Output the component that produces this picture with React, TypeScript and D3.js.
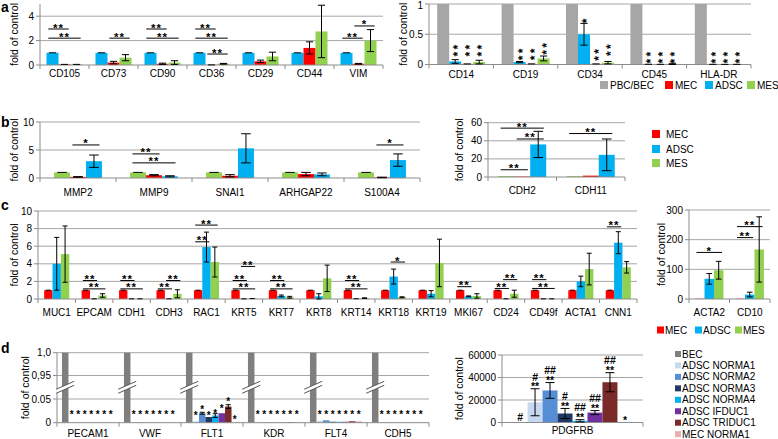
import React from "react";
import * as d3 from "d3";

const FONT = "Arial, 'Liberation Sans', Helvetica, sans-serif";
const RED = "#ff0000";
const BLUE = "#00b0f0";
const GREEN = "#92d050";
const GRAY = "#a6a6a6";

// ---- a, left: mesenchymal markers ----
const aGenes = ["CD105", "CD73", "CD90", "CD36", "CD29", "CD44", "VIM"];
const aADSC = [1, 1, 1, 1, 1, 1, 1];
const aADSCErr = [0, 0, 0, 0, 0, 0, 0];
const aMEC = [0.05, 0.2, 0.1, 0.01, 0.3, 1.4, 0.1];
const aMECErr = [0, 0.1, 0.05, 0, 0.1, 0.5, 0.03];
const aMES = [0.05, 0.6, 0.2, 0.1, 0.7, 2.75, 2.0];
const aMESErr = [0, 0.25, 0.15, 0.03, 0.35, 2.15, 0.9];
// [gene, from series, to series, level, label]
const aSigs: Sig[] = [
  [0, 0, 1, 2.95, "**"], [0, 0, 2, 2.2, "**"],
  [1, 1, 2, 2.2, "**"],
  [2, 0, 1, 2.95, "**"], [2, 0, 2, 2.2, "**"],
  [3, 0, 1, 2.95, "**"], [3, 0, 2, 2.2, "**"], [3, 1, 2, 0.9, "**"],
  [6, 0, 1, 2.2, "**"], [6, 1, 2, 3.2, "*"],
];

// ---- a, right: hematopoietic markers ----
const a2Genes = ["CD14", "CD19", "CD34", "CD45", "HLA-DR"];
const a2PBC = [1, 1, 1, 1, 1];
const a2ADSC = [0.05, 0.04, 0.5, 0.004, 0.003];
const a2ADSCErr = [0.03, 0.01, 0.18, 0, 0];
const a2MEC = [0.01, 0.01, 0.01, 0.003, 0.002];
const a2MECErr = [0, 0, 0, 0, 0];
const a2MES = [0.04, 0.1, 0.03, 0.01, 0.003];
const a2MESErr = [0.03, 0.04, 0.02, 0.01, 0];
// [gene, series, level of lowest star, label]
const a2Stars: [number, number, number, string][] = [
  [0, 1, 0.17, "**"], [0, 2, 0.17, "**"], [0, 3, 0.17, "**"],
  [1, 1, 0.11, "**"], [1, 2, 0.11, "**"], [1, 3, 0.2, "**"],
  [2, 1, 0.72, "*"], [2, 2, 0.1, "**"], [2, 3, 0.18, "**"],
  [3, 1, 0.055, "**"], [3, 2, 0.055, "**"], [3, 3, 0.055, "**"],
  [4, 1, 0.055, "**"], [4, 2, 0.055, "**"], [4, 3, 0.055, "**"],
];

// ---- b, left ----
const bGenes = ["MMP2", "MMP9", "SNAI1", "ARHGAP22", "S100A4"];
const bMES = [1, 1, 1, 1, 1];
const bMESErr = [0, 0, 0, 0, 0];
const bMEC = [0.2, 0.5, 0.4, 0.7, 0.1];
const bMECErr = [0.05, 0.1, 0.2, 0.3, 0.05];
const bADSC = [3.0, 0.3, 5.3, 0.65, 3.2];
const bADSCErr = [1.1, 0.1, 2.6, 0.25, 1.1];
const bSigs: Sig[] = [
  [0, 1, 2, 5.9, "*"], [1, 0, 1, 4.3, "**"], [1, 0, 2, 2.7, "**"], [4, 1, 2, 5.9, "*"],
];

// ---- b, right ----
const b2Genes = ["CDH2", "CDH11"];
const b2MES = [1, 1];
const b2MEC = [0.5, 1.5];
const b2ADSC = [36, 24.5];
const b2ADSCErr = [14.5, 17.5];
const b2Sigs: Sig[] = [
  [0, 0, 2, 54, "**"], [0, 1, 2, 42, "**"], [0, 0, 1, 8, "**"], [1, 0, 2, 48, "**"],
];

// ---- c, left ----
const cGenes = ["MUC1", "EPCAM", "CDH1", "CDH3", "RAC1", "KRT5", "KRT7", "KRT8", "KRT14", "KRT18", "KRT19", "MKI67", "CD24", "CD49f", "ACTA1", "CNN1"];
const cMEC = [1, 1, 1, 1, 1, 1, 1, 1, 1, 1, 1, 1, 1, 1, 1, 1];
const cMECErr = [0, 0, 0, 0, 0, 0, 0, 0, 0, 0, 0, 0, 0, 0, 0, 0];
const cADSC = [4.0, 0.02, 0.02, 0.02, 5.9, 0.02, 0.35, 0.3, 0.03, 2.55, 0.6, 0.3, 0.02, 0.02, 2.0, 6.4];
const cADSCErr = [3.0, 0, 0, 0, 1.7, 0, 0.1, 0.3, 0, 0.85, 0.35, 0.05, 0, 0, 0.6, 1.25];
const cMES = [5.1, 0.4, 0.02, 0.6, 4.2, 0.05, 0.2, 2.35, 0.1, 0.2, 4.1, 0.35, 0.6, 0.02, 3.4, 3.6];
const cMESErr = [3.2, 0.2, 0, 0.45, 1.7, 0, 0.1, 1.5, 0.03, 0.05, 2.7, 0.25, 0.4, 0, 1.8, 0.65];
const cSigs: Sig[] = [
  [1, 0, 1, 2.1, "**"], [1, 0, 2, 1.15, "**"],
  [2, 0, 1, 2.1, "**"], [2, 0, 2, 1.15, "**"],
  [3, 1, 2, 2.1, "**"], [3, 0, 1, 1.15, "**"],
  [4, 0, 2, 8.4, "**"], [4, 0, 1, 6.5, "**"],
  [5, 1, 2, 3.7, "**"], [5, 0, 1, 2.1, "**"], [5, 0, 2, 1.15, "**"],
  [6, 0, 1, 2.1, "**"], [6, 0, 2, 1.15, "**"],
  [8, 0, 1, 2.1, "**"], [8, 0, 2, 1.15, "**"],
  [9, 1, 2, 4.2, "*"],
  [11, 0, 1, 1.4, "**"],
  [12, 1, 2, 2.2, "**"], [12, 0, 1, 1.2, "**"],
  [13, 0, 1, 2.2, "**"], [13, 0, 2, 1.2, "**"],
  [15, 0, 1, 8.2, "**"],
];

// ---- c, right ----
const c2Genes = ["ACTA2", "CD10"];
const c2MEC = [1, 1];
const c2ADSC = [68, 15];
const c2ADSCErr = [18, 8];
const c2MES = [97, 167];
const c2MESErr = [30, 110];
const c2Sigs: Sig[] = [[0, 0, 2, 157, "*"], [1, 0, 1, 207, "**"], [1, 0, 2, 244, "**"]];

// ---- d ----
const dGenes = ["PECAM1", "VWF", "FLT1", "KDR", "FLT4", "CDH5"];
const dGroups = ["BEC", "ADSC NORMA1", "ADSC NORMA2", "ADSC NORMA3", "ADSC NORMA4", "ADSC IFDUC1", "ADSC TRIDUC1", "MEC NORMA1"];
const dColors = ["#7f7f7f", "#c6d9f1", "#558ed5", "#1f3864", "#00b0f0", "#7030a0", "#7b2a2a", "#e6b0b0"];
const dBEC = [1, 1, 1, 1, 1, 1];
const dNorma1 = [0.0005, 0.0005, 0.003, 0.001, 0.004, 0.0005];
const dNorma2 = [0, 0.001, 0.02, 0.0005, 0.005, 0.0005];
const dNorma3 = [0, 0, 0.012, 0.0005, 0.002, 0];
const dNorma4 = [0, 0, 0.015, 0.0005, 0.002, 0];
const dIfduc1 = [0, 0, 0.02, 0.0005, 0.002, 0];
const dTriduc1 = [0, 0, 0.034, 0.001, 0.003, 0];
const dMecNorma1 = [0, 0, 0.0005, 0.001, 0.003, 0];
const dTriduc1Err = [null, null, 0.004, null, null, null];
const dNorma2Err = [null, null, 0.002, null, null, null];
const dNorma4Err = [null, null, 0.004, null, null, null];
// genes whose seven star marks sit on one row, and that row's level
const dStarRowGenes = [0, 1, 3, 4, 5];
const dStarRowLevel = 0.022;
// FLT1 star level for each non-BEC group
const dFlt1Stars = [0.02, 0.033, 0.02, 0.025, 0.034, 0.052, 0.011];
const dRightGene = ["PDGFRB"];
const dPdgfrb = [1, 18000, 28500, 8000, 1500, 8800, 35800, 0];
const dPdgfrbErr = [null, 12000, 7000, 4500, 1000, 1800, 8500, null];
const dPdgfrbMarks = [["#"], ["**", "#"], ["**", "##"], ["**", "#"], ["**", "##"], ["**", "##"], ["**", "##"], ["*"]];

type Sig = [number, number, number, number, string];
type Series = { name: string; color: string; values: number[]; errors?: (number | null)[] };
type PanelCfg = {
  x0: number; x1: number;
  domain: number[]; range: number[];
  ticks: number[]; tickLabels?: string[]; grid: number[];
  categories: string[]; series: Series[];
  groupRatio: number; sigs?: Sig[];
  labelDy: number; titleX: number;
};

function buildPanel(cfg: PanelCfg, key: string) {
  const x = d3.scaleBand<string>().domain(cfg.categories).range([cfg.x0, cfg.x1]);
  const band = x.bandwidth();
  const gw = band * cfg.groupRatio;
  const xs = d3.scaleBand<number>().domain(d3.range(cfg.series.length)).range([0, gw]);
  const bw = xs.bandwidth();
  const y = d3.scaleLinear().domain(cfg.domain).range(cfg.range);
  const y0 = y(0);
  const yTop = cfg.range[cfg.range.length - 1];
  const barX = (c: number, s: number) => (x(cfg.categories[c]) ?? 0) + (band - gw) / 2 + (xs(s) ?? 0);
  const mid = (c: number, s: number) => barX(c, s) + bw / 2;
  const fmt = d3.format("~g");
  const capW = Math.max(2.5, bw * 0.3);

  const el = (
    <g key={key}>
      {cfg.grid.map((v) => (
        <line key={"g" + v} x1={cfg.x0} x2={cfg.x1} y1={y(v)} y2={y(v)} stroke="#a6a6a6" />
      ))}
      {cfg.series.map((s, si) =>
        s.values.map((v, c) =>
          v > 0 ? (
            <rect key={`b${si}-${c}`} x={barX(c, si)} y={y(v)} width={bw} height={y0 - y(v)} fill={s.color} />
          ) : null
        )
      )}
      <line x1={cfg.x0} x2={cfg.x0} y1={y0} y2={yTop} stroke="#8c8c8c" />
      <line x1={cfg.x0} x2={cfg.x1} y1={y0} y2={y0} stroke="#8c8c8c" />
      {d3.range(cfg.categories.length + 1).map((i) => (
        <line key={"xt" + i} x1={cfg.x0 + i * band} x2={cfg.x0 + i * band} y1={y0} y2={y0 + 4} stroke="#8c8c8c" />
      ))}
      {cfg.ticks.map((v, i) => (
        <g key={"t" + i}>
          <line x1={cfg.x0 - 4} x2={cfg.x0} y1={y(v)} y2={y(v)} stroke="#8c8c8c" />
          <text x={cfg.x0 - 6} y={Math.max(y(v), 5)} dy="0.35em" textAnchor="end" fontSize={10}>
            {cfg.tickLabels ? cfg.tickLabels[i] : fmt(v)}
          </text>
        </g>
      ))}
      {cfg.series.map((s, si) =>
        (s.errors || []).map((e, c) => {
          if (e == null) return null;
          const v = s.values[c];
          const cx = mid(c, si);
          const hi = y(v + e);
          const lo = y(Math.max(0, v - e));
          return (
            <g key={`e${si}-${c}`} stroke="#000" strokeWidth={1}>
              {e > 0 && <line x1={cx} x2={cx} y1={lo} y2={hi} />}
              <line x1={cx - capW} x2={cx + capW} y1={hi} y2={hi} />
              {e > 0 && <line x1={cx - capW} x2={cx + capW} y1={lo} y2={lo} />}
            </g>
          );
        })
      )}
      {cfg.categories.map((name) => (
        <text key={"c" + name} x={(x(name) ?? 0) + band / 2} y={y0 + cfg.labelDy} textAnchor="middle" fontSize={10}>
          {name}
        </text>
      ))}
      {(cfg.sigs || []).map(([c, a, b, lvl, lab], i) => {
        const xa = barX(c, a) + bw * 0.15;
        const xb = barX(c, b) + bw * 0.85;
        const ly = y(lvl);
        return (
          <g key={"s" + i}>
            <line x1={xa} x2={xb} y1={ly} y2={ly} stroke="#000" />
            <text x={(xa + xb) / 2} y={ly + 2.5} textAnchor="middle" fontSize={11.5} fontWeight="bold" letterSpacing={1}>
              {lab}
            </text>
          </g>
        );
      })}
      <text
        transform={`translate(${cfg.titleX},${(y0 + yTop) / 2}) rotate(-90)`}
        textAnchor="middle"
        dy="0.35em"
        fontSize={10.5}
      >
        fold of control
      </text>
    </g>
  );
  return { el, barX, mid, bw, y };
}

// a stack of marks (bottom line first) drawn as one text element
function MarkStack({ x, cy, lines, step, size }: { x: number; cy: number; lines: string[]; step: number; size: number }) {
  const shift = (lab: string) => (lab.includes("#") ? 0.36 : 0.58) * size;
  return (
    <text textAnchor="middle" fontSize={size} fontWeight="bold">
      {lines.map((lab, k) => (
        <tspan key={k} x={x} y={cy - k * step + shift(lab)}>
          {lab}
        </tspan>
      ))}
    </text>
  );
}

// stars stacked vertically: one rotated string, bottom star centred on cy
function VerticalStars({ x, cy, label, size }: { x: number; cy: number; label: string; size: number }) {
  const step = 7;
  const centre = cy - ((label.length - 1) * step) / 2;
  const spacing = step - 0.389 * size;
  return (
    <text
      transform={`translate(${x},${centre}) rotate(-90)`}
      x={spacing / 2}
      dy={0.58 * size}
      textAnchor="middle"
      fontSize={size}
      fontWeight="bold"
      letterSpacing={spacing}
    >
      {label}
    </text>
  );
}

function Legend({ items, colors, xs, ys, size, textDx }: { items: string[]; colors: string[]; xs: number[]; ys: number[]; size: number; textDx: number }) {
  return (
    <g>
      {items.map((name, i) => (
        <g key={name}>
          <rect x={xs[i]} y={ys[i] - size / 2} width={size} height={size} fill={colors[i]} />
          <text x={xs[i] + textDx} y={ys[i]} dy="0.35em" fontSize={10}>
            {name}
          </text>
        </g>
      ))}
    </g>
  );
}

export default function App() {
  const aL = buildPanel(
    {
      x0: 40, x1: 383, domain: [0, 5], range: [65, 4], ticks: [0, 2, 4], grid: [2, 4],
      categories: aGenes,
      series: [
        { name: "ADSC", color: BLUE, values: aADSC, errors: aADSCErr },
        { name: "MEC", color: RED, values: aMEC, errors: aMECErr },
        { name: "MES", color: GREEN, values: aMES, errors: aMESErr },
      ],
      groupRatio: 0.735, sigs: aSigs, labelDy: 12, titleX: 14,
    },
    "aL"
  );
  const aR = buildPanel(
    {
      x0: 429, x1: 751, domain: [0, 1], range: [64.5, 4], ticks: [0, 0.5, 1], grid: [0.5, 1],
      categories: a2Genes,
      series: [
        { name: "PBC/BEC", color: GRAY, values: a2PBC },
        { name: "ADSC", color: BLUE, values: a2ADSC, errors: a2ADSCErr },
        { name: "MEC", color: RED, values: a2MEC, errors: a2MECErr },
        { name: "MES", color: GREEN, values: a2MES, errors: a2MESErr },
      ],
      groupRatio: 0.745, labelDy: 13.5, titleX: 403,
    },
    "aR"
  );
  const bL = buildPanel(
    {
      x0: 40, x1: 420, domain: [0, 10], range: [178, 122], ticks: [0, 5, 10], grid: [5, 10],
      categories: bGenes,
      series: [
        { name: "MES", color: GREEN, values: bMES, errors: bMESErr },
        { name: "MEC", color: RED, values: bMEC, errors: bMECErr },
        { name: "ADSC", color: BLUE, values: bADSC, errors: bADSCErr },
      ],
      groupRatio: 0.63, sigs: bSigs, labelDy: 17.5, titleX: 14,
    },
    "bL"
  );
  const bR = buildPanel(
    {
      x0: 488, x1: 625, domain: [0, 60], range: [177, 122.7], ticks: [0, 20, 40, 60], grid: [20, 40, 60],
      categories: b2Genes,
      series: [
        { name: "MES", color: GREEN, values: b2MES },
        { name: "MEC", color: RED, values: b2MEC },
        { name: "ADSC", color: BLUE, values: b2ADSC, errors: b2ADSCErr },
      ],
      groupRatio: 0.7, sigs: b2Sigs, labelDy: 16.5, titleX: 459,
    },
    "bR"
  );
  const cL = buildPanel(
    {
      x0: 38, x1: 637, domain: [0, 10], range: [299, 211], ticks: [0, 2, 4, 6, 8, 10], grid: [2, 4, 6, 8, 10],
      categories: cGenes,
      series: [
        { name: "MEC", color: RED, values: cMEC, errors: cMECErr },
        { name: "ADSC", color: BLUE, values: cADSC, errors: cADSCErr },
        { name: "MES", color: GREEN, values: cMES, errors: cMESErr },
      ],
      groupRatio: 0.67, sigs: cSigs, labelDy: 16.5, titleX: 14,
    },
    "cL"
  );
  const cR = buildPanel(
    {
      x0: 689, x1: 770, domain: [0, 300], range: [299, 210], ticks: [0, 100, 200, 300], grid: [100, 200, 300],
      categories: c2Genes,
      series: [
        { name: "MEC", color: RED, values: c2MEC },
        { name: "ADSC", color: BLUE, values: c2ADSC, errors: c2ADSCErr },
        { name: "MES", color: GREEN, values: c2MES, errors: c2MESErr },
      ],
      groupRatio: 0.7, sigs: c2Sigs, labelDy: 16.5, titleX: 661,
    },
    "cR"
  );
  const dLeftValues = [dBEC, dNorma1, dNorma2, dNorma3, dNorma4, dIfduc1, dTriduc1, dMecNorma1];
  const dLeftErrs: ((number | null)[] | undefined)[] = [undefined, undefined, dNorma2Err, undefined, dNorma4Err, undefined, dTriduc1Err, undefined];
  const dL = buildPanel(
    {
      x0: 57, x1: 429, domain: [0, 0.05, 0.95, 1], range: [422.7, 399, 375.5, 352.7],
      ticks: [0, 0.05, 0.95, 1], tickLabels: ["0", "0.05", "0,95", "1,0"], grid: [0.05, 0.95, 1],
      categories: dGenes,
      series: dGroups.map((g, i) => ({ name: g, color: dColors[i], values: dLeftValues[i], errors: dLeftErrs[i] })),
      groupRatio: 0.84, labelDy: 14, titleX: 25,
    },
    "dL"
  );
  const dR = buildPanel(
    {
      x0: 502, x1: 643, domain: [0, 60000], range: [422.5, 355], ticks: [0, 20000, 40000, 60000], grid: [20000, 40000, 60000],
      categories: dRightGene,
      series: dGroups.map((g, i) => ({ name: g, color: dColors[i], values: [dPdgfrb[i]], errors: [dPdgfrbErr[i]] })),
      groupRatio: 0.85, labelDy: 11, titleX: 459,
    },
    "dR"
  );

  // axis break marks on the BEC bars
  const breakY = (dL.y(0.05) + dL.y(0.95)) / 2;
  const breaks = dGenes.map((g, c) => {
    const cx = dL.mid(c, 0);
    const p = `M${cx - 9},${breakY + 2} L${cx + 9},${breakY - 6} L${cx + 9},${breakY - 2} L${cx - 9},${breakY + 6} Z`;
    return (
      <g key={"br" + g}>
        <path d={p} fill="#fff" />
        <line x1={cx - 9} y1={breakY + 2} x2={cx + 9} y2={breakY - 6} stroke="#555" />
        <line x1={cx - 9} y1={breakY + 6} x2={cx + 9} y2={breakY - 2} stroke="#555" />
      </g>
    );
  });

  // row of seven star marks over the non-BEC bars, as one text with tspans
  const starRow = (c: number, levels: number[]) => (
    <text key={"dsr" + c} textAnchor="middle" fontSize={10} fontWeight="bold">
      {levels.map((lvl, k) => (
        <tspan key={k} x={dL.mid(c, k + 1)} y={dL.y(lvl) + 5.8}>
          *
        </tspan>
      ))}
    </text>
  );

  return (
    <svg
      width={778}
      height={439}
      style={{ position: "absolute", left: 0, top: 0, background: "#fff" }}
      fontFamily={FONT}
    >
      <rect width={778} height={439} fill="#fff" />
      {aL.el}
      {aR.el}
      {a2Stars.map(([c, s, lvl, lab], i) => (
        <VerticalStars key={"as" + i} x={aR.mid(c, s)} cy={aR.y(lvl)} label={lab} size={12} />
      ))}
      <Legend items={["PBC/BEC", "MEC", "ADSC", "MES"]} colors={[GRAY, RED, BLUE, GREEN]} xs={[600, 665, 705, 747]} ys={[85, 85, 85, 85]} size={8} textDx={10} />
      {bL.el}
      {bR.el}
      <Legend items={["MEC", "ADSC", "MES"]} colors={[RED, BLUE, GREEN]} xs={[652, 652, 652]} ys={[134, 149, 163]} size={8} textDx={14} />
      {cL.el}
      {cR.el}
      <Legend items={["MEC", "ADSC", "MES"]} colors={[RED, BLUE, GREEN]} xs={[657, 695, 735]} ys={[330, 330, 330]} size={7} textDx={8} />
      {dL.el}
      {breaks}
      {dStarRowGenes.map((c) => starRow(c, d3.range(7).map(() => dStarRowLevel)))}
      {starRow(2, dFlt1Stars)}
      {dR.el}
      {dPdgfrbMarks.map((lines, s) => {
        const e = dPdgfrbErr[s] ?? 0;
        const top = dR.y(dPdgfrb[s] + e);
        return <MarkStack key={"dm" + s} x={dR.mid(0, s)} cy={top - 5} lines={lines} step={7} size={10.5} />;
      })}
      <Legend
        items={dGroups}
        colors={dColors}
        xs={dGroups.map(() => 675)}
        ys={dGroups.map((g, i) => 354 + i * 11.45)}
        size={6}
        textDx={7}
      />
      <text x={1} y={12} fontSize={14} fontWeight="bold">a</text>
      <text x={1} y={127} fontSize={14} fontWeight="bold">b</text>
      <text x={1} y={210} fontSize={14} fontWeight="bold">c</text>
      <text x={1} y={353} fontSize={14} fontWeight="bold">d</text>
    </svg>
  );
}
